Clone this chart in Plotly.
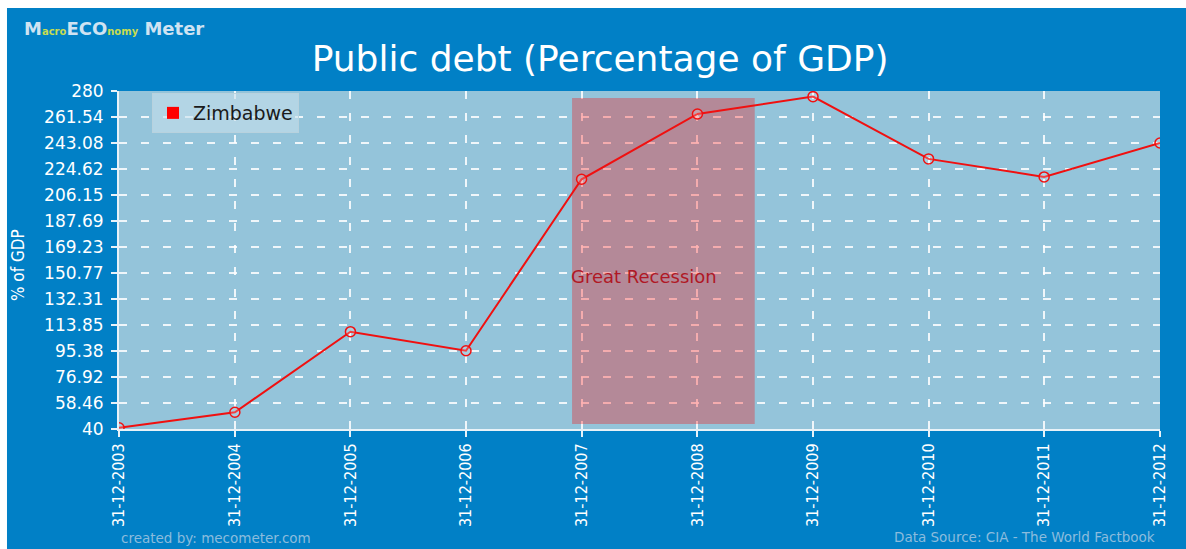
import plotly.graph_objects as go

# ---- data ----
dates = ["2003-12-31", "2004-12-31", "2005-12-31", "2006-12-31", "2007-12-31",
         "2008-12-31", "2009-12-31", "2010-12-31", "2011-12-31", "2012-12-31"]
tick_labels = ["31-12-2003", "31-12-2004", "31-12-2005", "31-12-2006", "31-12-2007",
               "31-12-2008", "31-12-2009", "31-12-2010", "31-12-2011", "31-12-2012"]
debt = [40.9, 51.9, 109.1, 95.6, 217.3, 263.7, 276.0, 231.8, 219.0, 243.1]
y_ticks = [40, 58.46, 76.92, 95.38, 113.85, 132.31, 150.77, 169.23, 187.69,
           206.15, 224.62, 243.08, 261.54, 280]
recession = ["2007-12-01", "2009-06-30"]
recession_y = [43.5, 275.0]
series_name = "Zimbabwe"

BLUE = "#0180C6"
PLOT_BG = "#94C4DA"

fig = go.Figure()
fig.add_trace(go.Scatter(
    x=dates, y=debt, mode="lines+markers", name=series_name, showlegend=False,
    line=dict(color="#F01010", width=2),
    marker=dict(symbol="circle", size=10, color="rgba(255,255,255,0.2)",
                line=dict(color="#F01010", width=1.5)),
))
# legend entry with square symbol
fig.add_trace(go.Scatter(
    x=[None], y=[None], mode="markers", name=series_name,
    marker=dict(symbol="square", size=7, color="#FF0000"),
))

# recession band
fig.add_shape(type="rect", xref="x", yref="y",
              x0=recession[0], x1=recession[1], y0=recession_y[0], y1=recession_y[1],
              fillcolor="rgba(255,0,0,0.3)", line=dict(width=0), layer="between")
fig.add_annotation(x=recession[0], y=148, xref="x", yref="y", text="Great Recession",
                   showarrow=False, xanchor="left", yanchor="middle", xshift=-3,
                   font=dict(family="DejaVu Sans", size=18, color="#B01825"))

# white strips at top and left edges of page
fig.add_shape(type="rect", xref="paper", yref="paper", x0=-0.2, x1=1.2, y0=1.2456, y1=1.4,
              fillcolor="white", line=dict(width=0), layer="below")
fig.add_shape(type="rect", xref="paper", yref="paper", x0=-0.2, x1=-0.1076, y0=-0.5, y1=1.4,
              fillcolor="white", line=dict(width=0), layer="below")

# logo
fig.add_annotation(
    x=-0.0932, y=1.186, xref="paper", yref="paper", xanchor="left", yanchor="middle",
    showarrow=False,
    text="M<span style='font-size:10px;color:#C8DC50'>acro</span>ECO"
         "<span style='font-size:10px;color:#C8DC50'>nomy</span> Meter",
    font=dict(family="DejaVu Sans", size=18, color="#CFE3F2", weight="bold"),
)
# y axis title
fig.add_annotation(x=-0.097, y=0.485, xref="paper", yref="paper", text="% of GDP",
                   showarrow=False, textangle=-90, xanchor="center", yanchor="middle",
                   font=dict(family="DejaVu Sans Condensed", size=17, color="white"))
# footers
fig.add_annotation(x=0.0, y=-0.322, xref="paper", yref="paper",
                   text="created by: mecometer.com", showarrow=False,
                   xanchor="left", yanchor="middle",
                   font=dict(family="DejaVu Sans", size=13.5, color="#8BBCDD"))
fig.add_annotation(x=0.997, y=-0.319, xref="paper", yref="paper",
                   text="Data Source: CIA - The World Factbook", showarrow=False,
                   xanchor="right", yanchor="middle",
                   font=dict(family="DejaVu Sans", size=13.5, color="#8BBCDD"))

fig.update_layout(
    width=1186, height=549,
    margin=dict(l=119, r=26, t=91, b=120),
    paper_bgcolor=BLUE, plot_bgcolor=PLOT_BG,
    title=dict(text="Public debt (Percentage of GDP)", x=0.506, y=0.894,
               xanchor="center", yanchor="middle",
               font=dict(family="DejaVu Sans", size=36, color="white")),
    legend=dict(x=0.0317, y=0.994, xanchor="left", yanchor="top",
                bgcolor="rgba(200,225,236,0.6)", bordercolor="#B8D2DE", borderwidth=1,
                font=dict(family="DejaVu Sans", size=19, color="#1A1A1A"),
                itemsizing="constant", itemwidth=30),
    showlegend=True,
)
fig.update_xaxes(
    type="date", range=[dates[0], dates[-1]],
    tickmode="array", tickvals=dates, ticktext=tick_labels, tickangle=-90,
    tickfont=dict(family="DejaVu Sans Condensed", size=16, color="white"),
    showgrid=True, gridcolor="rgba(255,255,255,0.85)", gridwidth=1.5, griddash="8px,14px",
    showline=True, linecolor="#E8F2F8", linewidth=2,
    ticks="outside", ticklen=6, tickcolor="#E8F2F8", tickwidth=2,
    zeroline=False,
)
fig.update_yaxes(
    range=[40, 280], tickmode="array", tickvals=y_ticks,
    ticktext=[("%g" % v) for v in y_ticks],
    tickfont=dict(family="DejaVu Sans", size=17, color="white"),
    ticklabelstandoff=4,
    showgrid=True, gridcolor="rgba(255,255,255,0.85)", gridwidth=1.5, griddash="8px,14px",
    showline=True, linecolor="#E8F2F8", linewidth=2,
    ticks="outside", ticklen=6, tickcolor="#E8F2F8", tickwidth=2,
    zeroline=False,
)

fig.write_html("out.html")
